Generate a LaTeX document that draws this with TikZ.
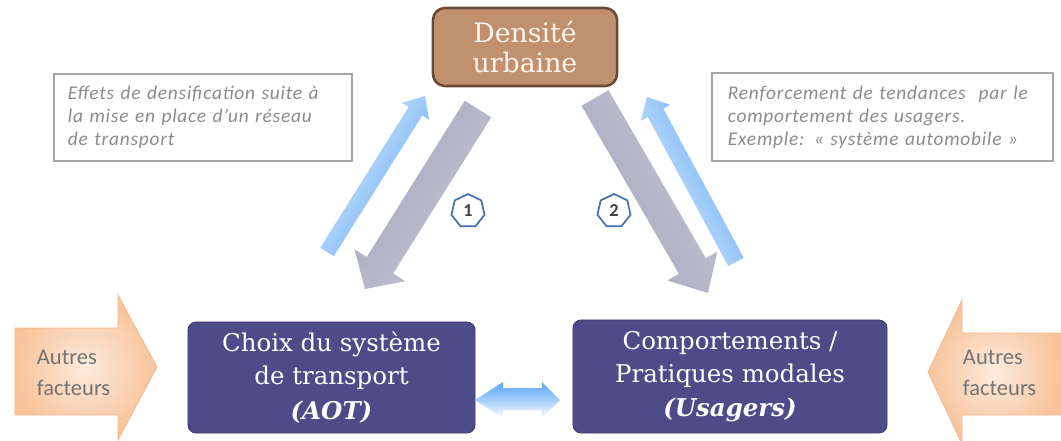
\documentclass[tikz,border=0pt]{standalone}
\usepackage{fontspec}
\setmainfont{DejaVu Serif}
\newfontfamily\calib{Carlito}
\newfontfamily\calibsp[LetterSpace=4,WordSpace=0.7]{Carlito}
\usetikzlibrary{calc,shapes.geometric}
\definecolor{brownfill}{HTML}{C1916F}
\definecolor{browndraw}{HTML}{6B4A35}
\definecolor{boxblue}{HTML}{4D4C88}
\definecolor{arrgray}{HTML}{A7A7BD}
\definecolor{arrgraylight}{HTML}{C4C4D4}
\definecolor{arrblue}{HTML}{5AA6F6}
\definecolor{arrbluelight}{HTML}{E6F0FC}
\definecolor{peach}{HTML}{F8C39A}
\definecolor{peachlight}{HTML}{FDEBDD}
\definecolor{peachdraw}{HTML}{F2B58A}
\definecolor{notegray}{HTML}{8C8C8C}
\definecolor{badgeblue}{HTML}{3F6FAF}
\newcommand{\blockarrow}[6]{% tail, head, halfshaft, halfhead, headlen, style
  \coordinate (hb) at ($(#2)!#5!(#1)$);
  \path[#6] ($(#1)!#3!90:(#2)$) -- ($(hb)!#3!90:(#2)$) -- ($(hb)!#4!90:(#2)$)
    -- (#2) -- ($(hb)!#4!-90:(#2)$) -- ($(hb)!#3!-90:(#2)$) -- ($(#1)!#3!-90:(#2)$) -- cycle;
}
\tikzset{
  mainbox/.style={rounded corners=0.2cm, fill=boxblue, draw=boxblue!80!black, line width=0.6pt,
    text=white, align=center, font=\fontsize{17.4}{23.5}\selectfont, inner sep=0pt},
  notebox/.style={draw=gray!70, line width=0.8pt, fill=white, align=left, text=notegray,
    font=\calibsp\itshape\fontsize{13.8}{16.3}\selectfont, inner sep=0pt, text width=#1},
  badge/.style={regular polygon, regular polygon sides=7, draw=badgeblue, line width=1.2pt,
    fill=white, minimum size=0.85cm, inner sep=0pt, text=black!75,
    font=\calib\bfseries\fontsize{13}{14}\selectfont},
  grayarrow/.style={left color=arrgraylight, right color=arrgray, shading angle=#1},
  bluearrow/.style={left color=arrbluelight, right color=arrblue, shading angle=#1},
  facteurs/.style={text=gray!90!black, align=left, anchor=west, font=\calib\fontsize{16}{22}\selectfont}
}
\begin{document}
\begin{tikzpicture}[x=0.025cm, y=-0.025cm]
\useasboundingbox (0,0) rectangle (1061,441);

% top box
\node[rounded corners=0.3cm, fill=brownfill, draw=browndraw, line width=1.8pt,
  minimum width=4.6cm, minimum height=1.95cm, text=white!92!orange, align=center,
  font=\fontsize{19}{22}\selectfont, inner sep=0pt] (dens) at (525,47) {Densit\'e\\urbaine};

% note boxes
\node[notebox=6.75cm, minimum width=7.45cm, minimum height=2.175cm] (note1) at (203,117.5)
  {Effets de densification suite à\\la mise en place d’un réseau\\de transport};
\node[notebox=7.725cm, minimum width=8.525cm, minimum height=2.2cm] (note2) at (882.5,117)
  {Renforcement de tendances~ par le\\comportement des usagers.\\Exemple: « système automobile »};

% bottom boxes
\node[mainbox, minimum width=7.175cm, minimum height=2.775cm] (aot) at (331.5,377.5)
  {Choix du système\\de transport\\[1pt]\textbf{\textit{(AOT)}}};
\node[mainbox, minimum width=7.85cm, minimum height=2.825cm] (usa) at (730,376.5)
  {Comportements /\\Pratiques modales\\[1pt]\textbf{\textit{(Usagers)}}};

% diagonal arrows
\coordinate (g1t) at (478,109);
\coordinate (g1h) at (365,289);
\blockarrow{g1t}{g1h}{0.39cm}{0.75cm}{0.7cm}{grayarrow=-122}
\coordinate (b1t) at (327,252);
\coordinate (b1h) at (425,96);
\blockarrow{b1t}{b1h}{0.2cm}{0.4cm}{0.45cm}{bluearrow=58}
\coordinate (g2t) at (595,98);
\coordinate (g2h) at (708,293);
\blockarrow{g2t}{g2h}{0.39cm}{0.72cm}{0.78cm}{grayarrow=-60}
\coordinate (b2t) at (736,262);
\coordinate (b2h) at (647,97);
\blockarrow{b2t}{b2h}{0.22cm}{0.42cm}{0.45cm}{bluearrow=118}

% badges
\node[badge] (n1) at (468,211) {1};
\node[badge] (n2) at (614,211) {2};

% double arrow between bottom boxes
\coordinate (dl) at (475,400);
\coordinate (dr) at (560,400);
\shade[top color=arrblue, bottom color=white, middle color=arrblue!55]
  (dl) -- ($(dl)+(28,-18)$) -- ($(dl)+(28,-12)$) -- ($(dr)+(-18,-12)$) -- ($(dr)+(-18,-18)$)
  -- (dr) -- ($(dr)+(-18,18)$) -- ($(dr)+(-18,10)$) -- ($(dl)+(28,10)$) -- ($(dl)+(28,18)$) -- cycle;

% orange arrows
\coordinate (oL) at (15,369);
\shade[draw=peachdraw, line width=0.5pt, inner color=peachlight, outer color=peach]
  (oL) ++(0,-41) -- ++(103,0) -- ++(0,-33) -- (157,367) -- (118,440) -- (118,415) -- (15,415) -- cycle;
\node[facteurs] (fL) at (32,373) {Autres\\facteurs};
\shade[draw=peachdraw, line width=0.5pt, inner color=peachlight, outer color=peach]
  (1061,333) -- (962,333) -- (962,300) -- (928,372) -- (962,444) -- (962,415) -- (1061,415);
\node[facteurs] (fR) at (958,373) {Autres\\facteurs};
\end{tikzpicture}
\end{document}
